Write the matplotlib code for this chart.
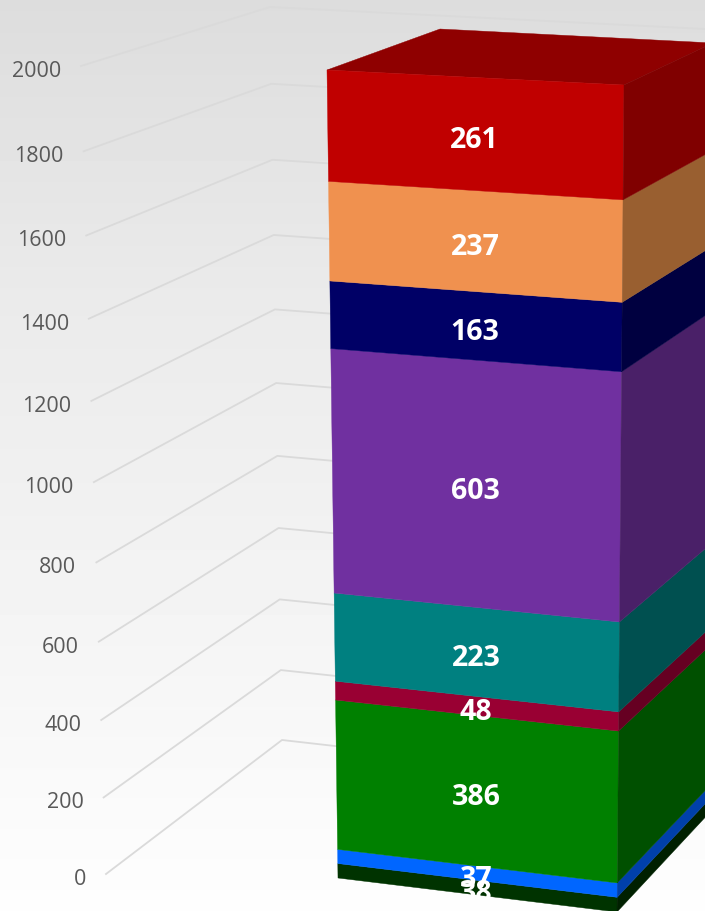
import numpy as np
import matplotlib
matplotlib.use('Agg')
import matplotlib.pyplot as plt

# bottom to top
values = [38, 37, 386, 48, 223, 603, 163, 237, 261]
front_colors = ['#003300', '#0066FF', '#008000', '#990033', '#008080', '#7030A0', '#000066', '#F0914F', '#C00000']
side_colors = ['#002000', '#0040AA', '#005000', '#660022', '#005050', '#4A2068', '#000040', '#995F30', '#800000']
top_color = '#8F0000'
ticks = [0, 200, 400, 600, 800, 1000, 1200, 1400, 1600, 1800, 2000]
bg_pos = [0, 300, 600, 912]
bg_grey = [0.865, 0.92, 0.955, 0.995]

plt.rcParams['font.family'] = ['Open Sans', 'DejaVu Sans']


# perspective along one vertical edge of the 3d box
# p0 is where value 0 lands, p1 where vmax lands, mid_s the fraction reached at vmid
def edge(p0, p1, vmax, vmid, mid_s):
    m = vmid / vmax
    k = (mid_s - m) / (m * (1 - mid_s))
    def f(v):
        r = v / vmax
        s = (1 + k) * r / (1 + k * r)
        return (p0[0] + (p1[0] - p0[0]) * s, p0[1] + (p1[1] - p0[1]) * s)
    return f


total = sum(values)
front_left = edge((338, 879), (327, 71), total, 732, 0.3527)
front_right = edge((617, 913), (624, 86), total, 732, 0.3507)
back_right = edge((712, 811), (713, 44), total, 732, 0.3486)
back_left_top = (440, 30)

wall_front = edge((106, 875), (81, 67), 2000, 1000, 0.485)
wall_corner = edge((282, 741), (270, 8), 2000, 1000, 0.487)
wall_right = edge((705, 789), (705, 30), 2000, 1000, 0.487)

fig = plt.figure(figsize=(7.05, 9.12), dpi=100)
ax = fig.add_axes([0, 0, 1, 1])

grad = np.interp(np.arange(912), bg_pos, bg_grey).reshape(-1, 1)
ax.imshow(grad, cmap='gray', vmin=0, vmax=1, extent=(0, 705, 912, 0), aspect='auto', zorder=0)

for t in ticks:
    a, b, c = wall_front(t), wall_corner(t), wall_right(t)
    ax.plot([a[0], b[0], c[0]], [a[1], b[1], c[1]], color='#DADADA', lw=1.3, zorder=1)
    ax.text(a[0] - 20, a[1] + 4.5, str(t), ha='right', va='center', fontsize=15.5, color='#595959')

tops = np.cumsum(values)
bottoms = tops - np.array(values)
for i in range(len(values)):
    lo, hi = bottoms[i], tops[i]
    fl0, fl1 = front_left(lo), front_left(hi)
    fr0, fr1 = front_right(lo), front_right(hi)
    br0, br1 = back_right(lo), back_right(hi)
    ax.fill([fl0[0], fr0[0], fr1[0], fl1[0]], [fl0[1], fr0[1], fr1[1], fl1[1]],
            color=front_colors[i], lw=0.3, zorder=3)
    ax.fill([fr0[0], br0[0], br1[0], fr1[0]], [fr0[1], br0[1], br1[1], fr1[1]],
            color=side_colors[i], lw=0.3, zorder=3)

fl, fr, br = front_left(total), front_right(total), back_right(total)
ax.fill([fl[0], fr[0], br[0], back_left_top[0]], [fl[1], fr[1], br[1], back_left_top[1]],
        color=top_color, lw=0.3, zorder=2)

for i in range(len(values)):
    mid = bottoms[i] + values[i] / 2
    l, r = front_left(mid), front_right(mid)
    ax.text((l[0] + r[0]) / 2 - 1, (l[1] + r[1]) / 2 + 5, str(values[i]), ha='center', va='center',
            fontsize=20.5, fontweight='bold', color='white', zorder=5)

ax.set_xlim(0, 705)
ax.set_ylim(912, 0)
ax.axis('off')
fig.savefig('out.png', dpi=100)
